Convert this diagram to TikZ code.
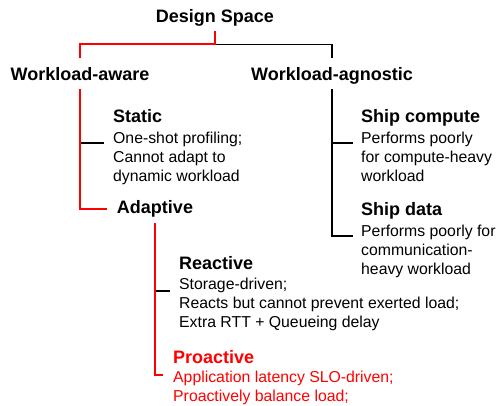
\documentclass[tikz,border=0pt]{standalone}
\usepackage{fontspec}
\setmainfont{Liberation Sans}
\begin{document}
\begin{tikzpicture}[x=1pt,y=-1pt,
  head/.style={font=\fontsize{18}{21}\selectfont\bfseries, inner sep=0pt,
    text height=13pt, text depth=4pt, anchor=base},
  body/.style={font=\fontsize{15.8}{19}\selectfont, inner sep=0pt, anchor=base west},
  blackline/.style={draw=black, line width=1.3pt},
  redline/.style={draw=red, line width=2pt},
  hot/.style={text=red}]
\useasboundingbox (0,0) rectangle (497,406);

% top levels
\node[head] (ds) at (215,23) {Design Space};
\node[head] (aware) at (80,81) {Workload-aware};
\node[head] (agn) at (332,81) {Workload-agnostic};

% workload-aware branch
\node[head,anchor=base west] (static) at (113,123) {Static};
\node[body] (staticT) at (113,143) {\begin{tabular}[t]{@{}l@{}}One-shot profiling;\\Cannot adapt to\\dynamic workload\end{tabular}};
\node[head] (adaptive) at (155,213) {Adaptive};

\node[head,anchor=base west] (react) at (179,269) {Reactive};
\node[body] (reactT) at (179,289) {\begin{tabular}[t]{@{}l@{}}Storage-driven;\\Reacts but cannot prevent exerted load;\\Extra RTT + Queueing delay\end{tabular}};

\node[head,anchor=base west,hot] (pro) at (173,363) {Proactive};
\node[body,hot] (proT) at (173,382) {\begin{tabular}[t]{@{}l@{}}Application latency SLO-driven;\\Proactively balance load;\end{tabular}};

% workload-agnostic branch
\node[head,anchor=base west] (shipc) at (361,123) {Ship compute};
\node[body] (shipcT) at (361,143) {\begin{tabular}[t]{@{}l@{}}Performs poorly\\for compute-heavy\\workload\end{tabular}};
\node[head,anchor=base west] (shipd) at (361,215) {Ship data};
\node[body] (shipdT) at (361,236) {\begin{tabular}[t]{@{}l@{}}Performs poorly for\\communication-\\heavy workload\end{tabular}};

% black connectors
\draw[blackline] ([yshift=-17pt]ds.south) -| ([yshift=10pt]agn.north);
\draw[blackline] ([yshift=-4pt]agn.south) |- ([xshift=-8pt]shipdT.base west);
\draw[blackline] (agn.south |- shipcT.base) -- ([xshift=-8pt]shipcT.base west);
\draw[blackline] (aware.south |- staticT.base) -- ([xshift=-9pt]staticT.base west);
\draw[blackline] ([yshift=-2pt]adaptive.south |- reactT.base) -- ([xshift=-9pt,yshift=-2pt]reactT.base west);

% red connectors (chosen path)
\draw[redline] ([yshift=-4pt]ds.south) -- ([yshift=-17pt]ds.south) -| ([yshift=10pt]aware.north);
\draw[redline] ([yshift=-4pt]aware.south) |- ([xshift=-10pt]adaptive.west);
\draw[redline] ([yshift=-6pt]adaptive.south) |- ([xshift=-10pt,yshift=7pt]proT.base west);
\end{tikzpicture}
\end{document}
